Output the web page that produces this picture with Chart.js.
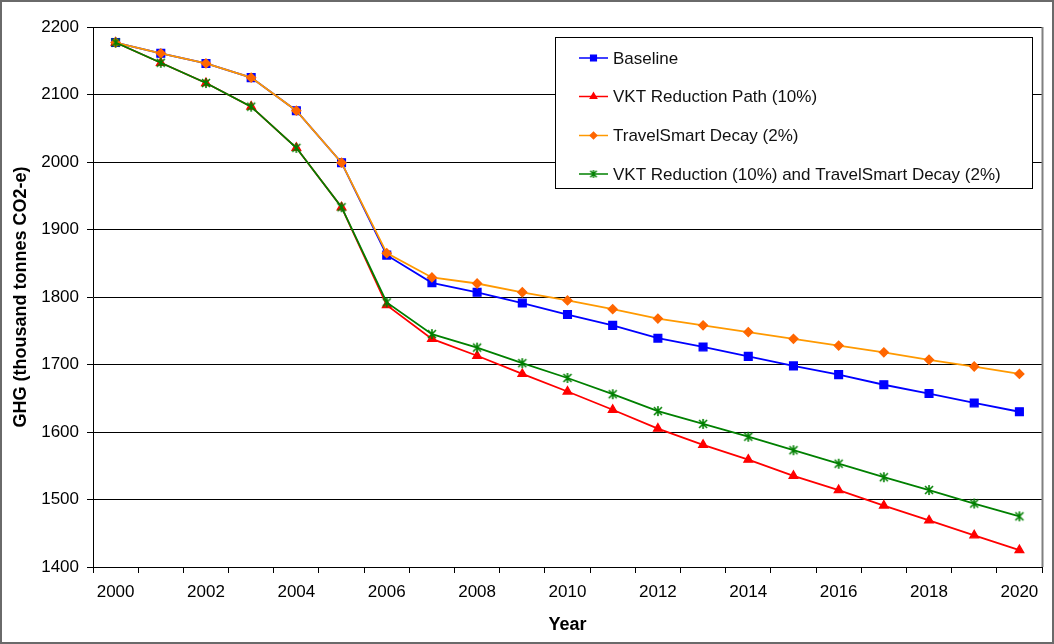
<!DOCTYPE html>
<html>
<head>
<meta charset="utf-8">
<script src="https://cdn.jsdelivr.net/npm/chart.js@4/dist/chart.umd.min.js"></script>
<style>
html,body{margin:0;padding:0;background:#fff;}
canvas{display:block;}
</style>
</head>
<body>
<canvas id="c" width="1054" height="644"></canvas>
<script>
const years = ["2000","2001","2002","2003","2004","2005","2006","2007","2008","2009","2010",
               "2011","2012","2013","2014","2015","2016","2017","2018","2019","2020"];
const baseline = [2177,2161,2146,2125,2076,1999,1862,1821,1807,1791,1774,
                  1758,1739,1726,1712,1698,1685,1670,1657,1643,1630];
const vktReduction = [2177,2147,2117,2082,2021,1933,1788,1738,1713,1686,1660,
                      1633,1605,1581,1559,1535,1514,1491,1469,1447,1425];
const travelSmart = [2177,2161,2146,2125,2076,1999,1865,1829,1820,1807,1795,
                     1782,1768,1758,1748,1738,1728,1718,1707,1697,1686];
const vktAndTravelSmart = [2177,2147,2117,2082,2021,1933,1792,1745,1725,1702,1680,
                           1656,1631,1612,1593,1573,1553,1533,1514,1494,1475];
const seriesNames = ["Baseline","VKT Reduction Path (10%)","TravelSmart Decay (2%)",
                     "VKT Reduction (10%) and TravelSmart Decay (2%)"];
const yTicks = [1400,1500,1600,1700,1800,1900,2000,2100,2200];

const FONT = "'Liberation Sans', Arial, sans-serif";

function asterisk(size, color, lw){
  const c = document.createElement('canvas');
  c.width = size; c.height = size;
  const g = c.getContext('2d');
  const m = size/2, r = size/2 - 1;
  g.strokeStyle = color; g.lineWidth = lw; g.lineCap = 'butt';
  g.beginPath();
  g.moveTo(m, m - r); g.lineTo(m, m + r);
  const d = r * 0.8;
  g.moveTo(m - d, m - d); g.lineTo(m + d, m + d);
  g.moveTo(m + d, m - d); g.lineTo(m - d, m + d);
  g.stroke();
  return c;
}
const starBig = asterisk(12, '#008000', 1.6);
const starSmall = asterisk(10, '#008000', 1.4);

const datasets = [
  {label: seriesNames[0], data: baseline, borderColor:'#0000FF', backgroundColor:'#0000FF',
   pointStyle:'rect', pointRadius:5.5, pointBorderColor:'#0000FF', pointBackgroundColor:'#0000FF', order:4},
  {label: seriesNames[1], data: vktReduction, borderColor:'#FF0000', backgroundColor:'#FF0000',
   pointStyle:'triangle', pointRadius:5, pointBorderColor:'#FF0000', pointBackgroundColor:'#FF0000', order:3},
  {label: seriesNames[2], data: travelSmart, borderColor:'#FF9900', backgroundColor:'#FF6600',
   pointStyle:'rectRot', pointRadius:4.5, pointBorderColor:'#FF6600', pointBackgroundColor:'#FF6600', order:2},
  {label: seriesNames[3], data: vktAndTravelSmart, borderColor:'#008000', backgroundColor:'#008000',
   pointStyle:starBig, pointRadius:6, pointBorderColor:'#008000', pointBackgroundColor:'#008000', order:1}
];
datasets.forEach(d => { d.borderWidth = 1.8; d.pointBorderWidth = 1.3; d.tension = 0; d.fill = false; });

const frame = {
  id:'frame',
  beforeDraw(chart){
    const ctx = chart.ctx;
    ctx.save();
    ctx.fillStyle = '#fff';
    ctx.fillRect(0,0,chart.width,chart.height);
    ctx.restore();
  },
  afterDatasetsDraw(chart){
    const ctx = chart.ctx, a = chart.chartArea;
    ctx.save();
    ctx.strokeStyle = '#808080';
    ctx.lineWidth = 2;
    ctx.beginPath();
    ctx.moveTo(a.right+0.5, a.top); ctx.lineTo(a.right+0.5, a.bottom);
    ctx.stroke();
    ctx.strokeStyle = '#6a6a6a';
    ctx.lineWidth = 2;
    ctx.strokeRect(1,1,chart.width-2,chart.height-2);
    ctx.restore();
  }
};

const legendBox = {
  id:'legendBox',
  afterDraw(chart){
    const ctx = chart.ctx;
    const bx = 555.5, by = 37.5, bw = 477, bh = 151;
    ctx.save();
    ctx.fillStyle = '#fff';
    ctx.fillRect(bx,by,bw,bh);
    ctx.strokeStyle = '#000';
    ctx.lineWidth = 1;
    ctx.strokeRect(bx,by,bw,bh);
    const rows = [58, 96.5, 135.5, 174];
    ctx.font = '17px ' + FONT;
    ctx.textBaseline = 'middle';
    ctx.textAlign = 'left';
    chart.data.datasets.forEach((ds,i) => {
      const y = rows[i];
      ctx.strokeStyle = ds.borderColor;
      ctx.lineWidth = 1.5;
      ctx.beginPath(); ctx.moveTo(579,y); ctx.lineTo(608,y); ctx.stroke();
      ctx.fillStyle = ds.pointBackgroundColor;
      ctx.strokeStyle = ds.pointBorderColor;
      ctx.lineWidth = ds.pointBorderWidth;
      const ps = (i === 3) ? starSmall : ds.pointStyle;
      Chart.helpers.drawPoint(ctx, {pointStyle: ps, radius: ds.pointRadius*0.75,
        rotation:0, borderWidth: ds.pointBorderWidth}, 593.5, y);
      ctx.fillStyle = '#111';
      ctx.fillText(ds.label, 613, y+1);
    });
    ctx.restore();
  }
};

new Chart(document.getElementById('c'), {
  type:'line',
  data:{labels: years, datasets},
  options:{
    responsive:false,
    animation:false,
    layout:{padding:{left:0, top:27, right:12, bottom:0}},
    plugins:{legend:{display:false}, tooltip:{enabled:false}},
    scales:{
      x:{
        type:'category',
        offset:true,
        grid:{offset:true, drawOnChartArea:false, drawTicks:true, tickLength:6, color:'#000'},
        border:{color:'#000', width:1},
        ticks:{autoSkip:false, maxRotation:0, minRotation:0, padding:9, color:'#000',
          font:{family:FONT, size:17},
          callback:function(v,i){ return i % 2 === 0 ? this.getLabelForValue(v) : ''; }},
        title:{display:true, text:'Year', color:'#000', font:{family:FONT, size:18, weight:'bold'}, padding:{top:0,bottom:8}},
        afterFit(s){ s.height = 77; }
      },
      y:{
        min:1400, max:2200,
        afterBuildTicks(s){ s.ticks = yTicks.map(v => ({value:v})); },
        grid:{color:'#000', lineWidth:1, tickLength:6, drawTicks:true},
        border:{color:'#000', width:1},
        ticks:{padding:8, color:'#000', font:{family:FONT, size:17},
          callback:function(v){ return String(v); }},
        title:{display:true, text:'GHG (thousand tonnes CO2-e)', color:'#000',
          font:{family:FONT, size:18, weight:'bold'}, padding:{top:10,bottom:0}},
        afterFit(s){ s.width = 93; }
      }
    }
  },
  plugins:[frame, legendBox]
});
</script>
</body>
</html>
